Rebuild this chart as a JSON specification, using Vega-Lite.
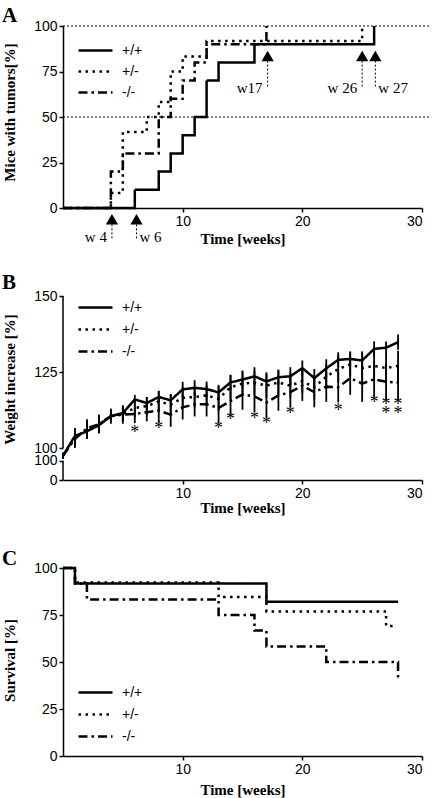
{
  "$schema": "https://vega.github.io/schema/vega-lite/v6.json",
  "padding": {"left": 2, "top": 5, "right": 5, "bottom": 3},
  "background": "white",
  "config": {
    "view": {"stroke": null},
    "axis": {"labelFont": "Liberation Sans", "labelFontSize": 14, "labelColor": "black", "titleFont": "Liberation Serif", "titleFontSize": 15, "titleFontWeight": "bold", "titleColor": "black", "domainColor": "black", "tickColor": "black", "domainWidth": 1.5, "tickWidth": 1.5, "tickSize": 4, "grid": false, "labelPadding": 2, "labelOverlap": false},
    "title": {"font": "Liberation Serif", "fontSize": 21, "fontWeight": "bold", "color": "black", "anchor": "start", "frame": "group", "baseline": "alphabetic", "dx": -61},
    "legend": {"title": null, "orient": "none", "symbolType": "M-2.5,0H2.5", "symbolSize": 185, "symbolStrokeWidth": 2.5, "symbolStrokeColor": "black", "labelOffset": 18, "labelFont": "Liberation Sans", "labelFontSize": 14, "labelColor": "black"}
  },
  "datasets": {
    "tumors": [
      {"geno": "+/+", "week": 0, "pct": 0}, {"geno": "+/+", "week": 6, "pct": 10}, {"geno": "+/+", "week": 8, "pct": 20}, {"geno": "+/+", "week": 9, "pct": 30}, {"geno": "+/+", "week": 10, "pct": 40}, {"geno": "+/+", "week": 11, "pct": 50}, {"geno": "+/+", "week": 12, "pct": 70}, {"geno": "+/+", "week": 13, "pct": 80}, {"geno": "+/+", "week": 16, "pct": 90}, {"geno": "+/+", "week": 26, "pct": 100},
      {"geno": "+/-", "week": 0, "pct": 0}, {"geno": "+/-", "week": 4, "pct": 8.3}, {"geno": "+/-", "week": 5, "pct": 41.7}, {"geno": "+/-", "week": 7, "pct": 50}, {"geno": "+/-", "week": 8, "pct": 58.3}, {"geno": "+/-", "week": 9, "pct": 75}, {"geno": "+/-", "week": 10, "pct": 83.3}, {"geno": "+/-", "week": 12, "pct": 91.7}, {"geno": "+/-", "week": 25, "pct": 100},
      {"geno": "-/-", "week": 0, "pct": 0}, {"geno": "-/-", "week": 4, "pct": 20}, {"geno": "-/-", "week": 5, "pct": 30}, {"geno": "-/-", "week": 8, "pct": 50}, {"geno": "-/-", "week": 9, "pct": 60}, {"geno": "-/-", "week": 10, "pct": 70}, {"geno": "-/-", "week": 11, "pct": 80}, {"geno": "-/-", "week": 12, "pct": 90}, {"geno": "-/-", "week": 17, "pct": 100}
    ],
    "refs": [{"g": 50}, {"g": 100}],
    "arrows": [
      {"label": "w 4", "side": "right", "week": 4.09, "tip": -6.2, "top": -9, "bottom": -17.6, "ly": -16},
      {"label": "w 6", "side": "left", "week": 6.14, "tip": -6.2, "top": -9, "bottom": -17.6, "ly": -16},
      {"label": "w17", "side": "right", "week": 17.1, "tip": 83.5, "top": 81, "bottom": 66, "ly": 66},
      {"label": "w 26", "side": "right", "week": 25.0, "tip": 83.5, "top": 81, "bottom": 66, "ly": 66},
      {"label": "w 27", "side": "left", "week": 26.1, "tip": 83.5, "top": 81, "bottom": 66, "ly": 66}
    ],
    "weight": [
      {"geno": "+/+", "week": 0, "mean": 97.5, "err": 1}, {"geno": "+/+", "week": 1, "mean": 104, "err": 2.5}, {"geno": "+/+", "week": 2, "mean": 105.5, "err": 2.5}, {"geno": "+/+", "week": 3, "mean": 107.5, "err": 2.5}, {"geno": "+/+", "week": 4, "mean": 110.5, "err": 2}, {"geno": "+/+", "week": 5, "mean": 111.5, "err": 2.5}, {"geno": "+/+", "week": 6, "mean": 116, "err": 1.5}, {"geno": "+/+", "week": 7, "mean": 114.8, "err": 2}, {"geno": "+/+", "week": 8, "mean": 116.8, "err": 2}, {"geno": "+/+", "week": 9, "mean": 115.7, "err": 2}, {"geno": "+/+", "week": 10, "mean": 119.3, "err": 2.5}, {"geno": "+/+", "week": 11, "mean": 119.8, "err": 2.5}, {"geno": "+/+", "week": 12, "mean": 119.4, "err": 2.5}, {"geno": "+/+", "week": 13, "mean": 118.3, "err": 2.5}, {"geno": "+/+", "week": 14, "mean": 121.6, "err": 2.5}, {"geno": "+/+", "week": 15, "mean": 122.5, "err": 3}, {"geno": "+/+", "week": 16, "mean": 123.6, "err": 3}, {"geno": "+/+", "week": 17, "mean": 121.9, "err": 3}, {"geno": "+/+", "week": 18, "mean": 123.3, "err": 2.5}, {"geno": "+/+", "week": 19, "mean": 123.6, "err": 3}, {"geno": "+/+", "week": 20, "mean": 126.3, "err": 2.5}, {"geno": "+/+", "week": 21, "mean": 123, "err": 3}, {"geno": "+/+", "week": 22, "mean": 126.2, "err": 3}, {"geno": "+/+", "week": 23, "mean": 129, "err": 2.5}, {"geno": "+/+", "week": 24, "mean": 129.3, "err": 2.5}, {"geno": "+/+", "week": 25, "mean": 128.8, "err": 3}, {"geno": "+/+", "week": 26, "mean": 132.6, "err": 2.5}, {"geno": "+/+", "week": 27, "mean": 133, "err": 2}, {"geno": "+/+", "week": 28, "mean": 134.8, "err": 2.5},
      {"geno": "+/-", "week": 0, "mean": 97.5, "err": 1}, {"geno": "+/-", "week": 1, "mean": 103.5, "err": 3}, {"geno": "+/-", "week": 2, "mean": 106, "err": 3}, {"geno": "+/-", "week": 3, "mean": 108, "err": 3}, {"geno": "+/-", "week": 4, "mean": 110.5, "err": 2}, {"geno": "+/-", "week": 5, "mean": 111.2, "err": 2.5}, {"geno": "+/-", "week": 6, "mean": 113.2, "err": 3}, {"geno": "+/-", "week": 7, "mean": 113.8, "err": 3}, {"geno": "+/-", "week": 8, "mean": 115.3, "err": 3.5}, {"geno": "+/-", "week": 9, "mean": 114.3, "err": 3.5}, {"geno": "+/-", "week": 10, "mean": 116.5, "err": 3.5}, {"geno": "+/-", "week": 11, "mean": 116.8, "err": 3.5}, {"geno": "+/-", "week": 12, "mean": 117.3, "err": 3.5}, {"geno": "+/-", "week": 13, "mean": 116.2, "err": 4}, {"geno": "+/-", "week": 14, "mean": 120, "err": 4}, {"geno": "+/-", "week": 15, "mean": 121.2, "err": 4}, {"geno": "+/-", "week": 16, "mean": 121.5, "err": 4}, {"geno": "+/-", "week": 17, "mean": 120.5, "err": 4}, {"geno": "+/-", "week": 18, "mean": 121.6, "err": 4}, {"geno": "+/-", "week": 19, "mean": 120.5, "err": 4}, {"geno": "+/-", "week": 20, "mean": 122, "err": 4}, {"geno": "+/-", "week": 21, "mean": 120, "err": 4}, {"geno": "+/-", "week": 22, "mean": 123.5, "err": 4}, {"geno": "+/-", "week": 23, "mean": 126, "err": 4.5}, {"geno": "+/-", "week": 24, "mean": 127.5, "err": 4}, {"geno": "+/-", "week": 25, "mean": 126.3, "err": 5}, {"geno": "+/-", "week": 26, "mean": 127, "err": 5}, {"geno": "+/-", "week": 27, "mean": 126.3, "err": 5}, {"geno": "+/-", "week": 28, "mean": 127, "err": 5},
      {"geno": "-/-", "week": 0, "mean": 97.5, "err": 1}, {"geno": "-/-", "week": 1, "mean": 103, "err": 3}, {"geno": "-/-", "week": 2, "mean": 106.5, "err": 3}, {"geno": "-/-", "week": 3, "mean": 107.8, "err": 3}, {"geno": "-/-", "week": 4, "mean": 110.5, "err": 2.5}, {"geno": "-/-", "week": 5, "mean": 111, "err": 3}, {"geno": "-/-", "week": 6, "mean": 111.2, "err": 3}, {"geno": "-/-", "week": 7, "mean": 111.8, "err": 3}, {"geno": "-/-", "week": 8, "mean": 112.3, "err": 4}, {"geno": "-/-", "week": 9, "mean": 111, "err": 4}, {"geno": "-/-", "week": 10, "mean": 113.4, "err": 4}, {"geno": "-/-", "week": 11, "mean": 114.4, "err": 4}, {"geno": "-/-", "week": 12, "mean": 114.4, "err": 4}, {"geno": "-/-", "week": 13, "mean": 113.2, "err": 5}, {"geno": "-/-", "week": 14, "mean": 115.5, "err": 5}, {"geno": "-/-", "week": 15, "mean": 117.6, "err": 5}, {"geno": "-/-", "week": 16, "mean": 117, "err": 5}, {"geno": "-/-", "week": 17, "mean": 115, "err": 5}, {"geno": "-/-", "week": 18, "mean": 117.3, "err": 5}, {"geno": "-/-", "week": 19, "mean": 118.4, "err": 5}, {"geno": "-/-", "week": 20, "mean": 120.5, "err": 5}, {"geno": "-/-", "week": 21, "mean": 118.4, "err": 5}, {"geno": "-/-", "week": 22, "mean": 120.2, "err": 5}, {"geno": "-/-", "week": 23, "mean": 120, "err": 5}, {"geno": "-/-", "week": 24, "mean": 123, "err": 5.5}, {"geno": "-/-", "week": 25, "mean": 121.2, "err": 6}, {"geno": "-/-", "week": 26, "mean": 122.6, "err": 6}, {"geno": "-/-", "week": 27, "mean": 121.8, "err": 6}, {"geno": "-/-", "week": 28, "mean": 121.5, "err": 6}
    ],
    "stars": [
      {"week": 6, "v": 106.3}, {"week": 8, "v": 107.6}, {"week": 13, "v": 107.6}, {"week": 14, "v": 110.7}, {"week": 16, "v": 111}, {"week": 17, "v": 109.2}, {"week": 19, "v": 112.5}, {"week": 23, "v": 113.6}, {"week": 26, "v": 116.2}, {"week": 27, "v": 115.6}, {"week": 27, "v": 112.6}, {"week": 28, "v": 115.6}, {"week": 28, "v": 112.6}
    ],
    "survival": [
      {"geno": "+/+", "week": 0, "pct": 100}, {"geno": "+/+", "week": 1, "pct": 91.7}, {"geno": "+/+", "week": 17, "pct": 82}, {"geno": "+/+", "week": 28, "pct": 82},
      {"geno": "+/-", "week": 0, "pct": 100}, {"geno": "+/-", "week": 1, "pct": 92.3}, {"geno": "+/-", "week": 13, "pct": 84.6}, {"geno": "+/-", "week": 17, "pct": 76.9}, {"geno": "+/-", "week": 27, "pct": 69.2}, {"geno": "+/-", "week": 27.6, "pct": 69.2},
      {"geno": "-/-", "week": 0, "pct": 100}, {"geno": "-/-", "week": 1, "pct": 91.7}, {"geno": "-/-", "week": 2, "pct": 83.3}, {"geno": "-/-", "week": 13, "pct": 75}, {"geno": "-/-", "week": 16, "pct": 66.7}, {"geno": "-/-", "week": 17, "pct": 58.3}, {"geno": "-/-", "week": 22, "pct": 50}, {"geno": "-/-", "week": 28, "pct": 41.7}
    ]
  },
  "spacing": 88,
  "bounds": "flush",
  "resolve": {"scale": {"strokeDash": "independent", "x": "independent", "y": "independent"}, "legend": {"strokeDash": "independent"}},
  "vconcat": [
    {
      "width": 359, "height": 182,
      "title": {"text": "A", "offset": -7},
      "layer": [
        {
          "data": {"name": "refs"},
          "mark": {"type": "rule", "color": "black", "strokeWidth": 1, "strokeDash": [2, 2]},
          "encoding": {"y": {"field": "g", "type": "quantitative"}, "x": {"datum": 0, "type": "quantitative"}, "x2": {"datum": 30.75}}
        },
        {
          "data": {"name": "tumors"},
          "mark": {"type": "line", "interpolate": "step-after", "color": "black", "strokeWidth": 2.5},
          "encoding": {
            "x": {"field": "week", "type": "quantitative", "scale": {"domain": [0, 30], "nice": false}, "axis": {"values": [10, 20, 30], "title": "Time [weeks]", "titlePadding": 3}},
            "y": {"field": "pct", "type": "quantitative", "scale": {"domain": [0, 100], "nice": false}, "axis": {"values": [0, 25, 50, 75, 100], "title": "Mice with tumors[%]", "titleX": -46, "titleY": 86}},
            "strokeDash": {"field": "geno", "type": "nominal", "scale": {"domain": ["+/+", "+/-", "-/-"], "range": [[1, 0], [2.5, 4.5], [9, 4, 2.5, 4]]}, "legend": {"legendX": 24, "legendY": 16, "rowPadding": 5}}
          }
        },
        {
          "data": {"name": "arrows"},
          "mark": {"type": "rule", "color": "black", "strokeWidth": 1, "strokeDash": [2, 2]},
          "encoding": {"x": {"field": "week", "type": "quantitative"}, "y": {"field": "top", "type": "quantitative"}, "y2": {"field": "bottom"}}
        },
        {
          "data": {"name": "arrows"},
          "mark": {"type": "point", "shape": "triangle-up", "filled": true, "color": "black", "size": 150, "opacity": 1},
          "encoding": {"x": {"field": "week", "type": "quantitative"}, "y": {"field": "tip", "type": "quantitative"}}
        },
        {
          "data": {"name": "arrows"},
          "transform": [{"filter": "datum.side == 'right'"}],
          "mark": {"type": "text", "align": "right", "baseline": "middle", "dx": -5, "font": "Liberation Serif", "fontSize": 15, "fill": "black"},
          "encoding": {"x": {"field": "week", "type": "quantitative"}, "y": {"field": "ly", "type": "quantitative"}, "text": {"field": "label"}}
        },
        {
          "data": {"name": "arrows"},
          "transform": [{"filter": "datum.side == 'left'"}],
          "mark": {"type": "text", "align": "left", "baseline": "middle", "dx": 3, "font": "Liberation Serif", "fontSize": 15, "fill": "black"},
          "encoding": {"x": {"field": "week", "type": "quantitative"}, "y": {"field": "ly", "type": "quantitative"}, "text": {"field": "label"}}
        }
      ]
    },
    {
      "width": 359, "height": 184,
      "title": {"text": "B", "offset": -4},
      "layer": [
        {
          "data": {"values": [{}]},
          "mark": {"type": "rule", "color": "black", "strokeWidth": 1.5},
          "encoding": {"x": {"datum": 0, "type": "quantitative"}, "y": {"datum": 100, "type": "quantitative"}, "y2": {"datum": 150}}
        },
        {
          "data": {"values": [{}]},
          "mark": {"type": "rule", "color": "black", "strokeWidth": 1.5},
          "encoding": {"x": {"datum": 0, "type": "quantitative"}, "y": {"datum": 89.5, "type": "quantitative"}, "y2": {"datum": 95.8}}
        },
        {
          "data": {"name": "weight"},
          "mark": {"type": "errorbar", "ticks": false, "thickness": 1.8, "color": "black"},
          "encoding": {"x": {"field": "week", "type": "quantitative"}, "y": {"field": "mean", "type": "quantitative", "title": "Weight increase [%]"}, "yError": {"field": "err"}}
        },
        {
          "data": {"name": "weight"},
          "mark": {"type": "line", "color": "black", "strokeWidth": 2.5},
          "encoding": {
            "x": {"field": "week", "type": "quantitative", "scale": {"domain": [0, 30], "nice": false}, "axis": {"values": [10, 20, 30], "title": "Time [weeks]", "titlePadding": 0}},
            "y": {"field": "mean", "type": "quantitative", "title": "Weight increase [%]", "scale": {"domain": [89.5, 150], "nice": false, "zero": false}, "axis": {"values": [89.5, 95.8, 100, 125, 150], "labelExpr": "datum.value < 90 ? '0' : (datum.value < 99 ? '100' : datum.label)", "domain": false, "titleX": -46, "titleY": 83}},
            "strokeDash": {"field": "geno", "type": "nominal", "scale": {"domain": ["+/+", "+/-", "-/-"], "range": [[1, 0], [2.5, 4.5], [9, 4, 2.5, 4]]}, "legend": {"legendX": 24, "legendY": 3, "rowPadding": 6}}
          }
        },
        {
          "data": {"name": "stars"},
          "mark": {"type": "text", "text": "*", "font": "Liberation Serif", "fontSize": 18, "baseline": "middle", "dy": 4, "fill": "black", "color": "black"},
          "encoding": {"x": {"field": "week", "type": "quantitative"}, "y": {"field": "v", "type": "quantitative"}}
        }
      ]
    },
    {
      "width": 359, "height": 188,
      "title": {"text": "C", "offset": -8},
      "layer": [
        {
          "data": {"name": "survival"},
          "mark": {"type": "line", "interpolate": "step-after", "color": "black", "strokeWidth": 2.5},
          "encoding": {
            "x": {"field": "week", "type": "quantitative", "scale": {"domain": [0, 30], "nice": false}, "axis": {"values": [10, 20, 30], "title": "Time [weeks]", "titlePadding": 6}},
            "y": {"field": "pct", "type": "quantitative", "scale": {"domain": [0, 100], "nice": false}, "axis": {"values": [0, 25, 50, 75, 100], "title": "Survival [%]", "titleX": -46, "titleY": 92}},
            "strokeDash": {"field": "geno", "type": "nominal", "scale": {"domain": ["+/+", "+/-", "-/-"], "range": [[1, 0], [2.5, 4.5], [9, 4, 2.5, 4]]}, "legend": {"legendX": 24, "legendY": 116, "rowPadding": 6}}
          }
        }
      ]
    }
  ]
}
